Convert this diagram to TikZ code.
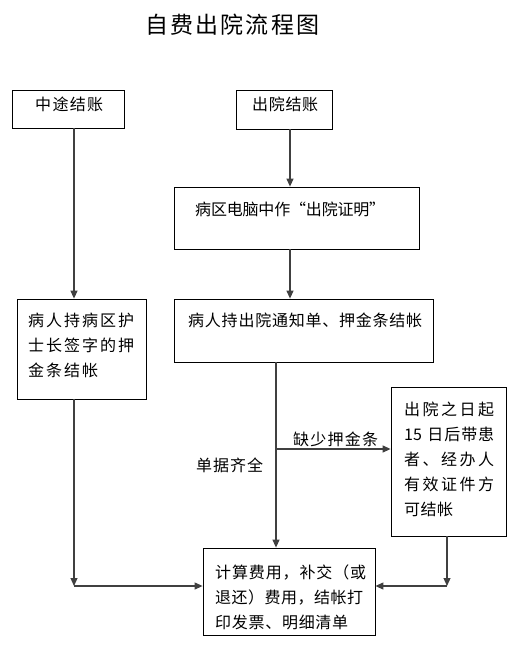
\documentclass[tikz,border=0pt]{standalone}
\usepackage{fontspec}
\newfontfamily\cjk{Noto Sans CJK SC}
\usetikzlibrary{arrows.meta,positioning}

% spread the characters of one line over a given width
\ExplSyntaxOn
\dim_new:N \l_spr_gap_dim
\box_new:N \l_spr_box
\NewDocumentCommand \spreadto { m m }
  {
    \hbox_set:Nn \l_spr_box {#2}
    \int_set:Nn \l_tmpa_int { \tl_count:n {#2} - 1 }
    \dim_set:Nn \l_spr_gap_dim { #1 - \box_wd:N \l_spr_box }
    \dim_set:Nn \l_spr_gap_dim { \l_spr_gap_dim / \l_tmpa_int }
    \bool_set_true:N \l_tmpa_bool
    \tl_map_inline:nn {#2}
      {
        \bool_if:NTF \l_tmpa_bool
          { \bool_set_false:N \l_tmpa_bool }
          { \hskip \l_spr_gap_dim \relax }
        ##1
      }
  }
\ExplSyntaxOff

\tikzset{
  box/.style={draw, line width=0.8pt, inner sep=0pt},
  txt/.style={font=\cjk\fontsize{16}{25}\selectfont,
    inner sep=0pt, anchor=north west, align=left},
  arr/.style={-{Triangle[length=8pt,width=7pt]}, line width=1.2pt, draw=black!75},
}

\begin{document}
\begin{tikzpicture}[x=1pt, y=-1pt]
  \useasboundingbox (0,0) rectangle (522,648);

  \node[anchor=north west, inner sep=0pt, font=\cjk\fontsize{23}{26}\selectfont]
    (title) at (145,14) {\spreadto{174pt}{自费出院流程图}};

  \node[box, minimum width=112, minimum height=38] (a) at (68,109) {};
  \node[box, minimum width=96, minimum height=39] (b) at (284,109.5) {};
  \node[box, minimum width=245, minimum height=62] (c) at (296.5,218) {};
  \node[box, minimum width=129, minimum height=100] (d) at (81.5,349) {};
  \node[box, minimum width=259, minimum height=63] (e) at (303.5,330.5) {};
  \node[box, minimum width=115, minimum height=149] (f) at (448.5,461.5) {};
  \node[box, minimum width=172, minimum height=87] (g) at (289,591.5) {};

  \node[txt] (ta) at (35,97) {\spreadto{68pt}{中途结账}};
  \node[txt] (tb) at (252,97) {\spreadto{66pt}{出院结账}};
  \node[txt] (tc) at (195,202) {\spreadto{190pt}{病区电脑中作“出院证明”}};
  \node[txt] (td) at (28,313) {\spreadto{106pt}{病人持病区护}\\
    \spreadto{106pt}{士长签字的押}\\\spreadto{70pt}{金条结帐}};
  \node[txt] (te) at (188,313) {\spreadto{234pt}{病人持出院通知单、押金条结帐}};
  \node[txt] (tf) at (404,402) {\spreadto{90pt}{出院之日起}\\
    \spreadto{90pt}{{15}~日后带患}\\\spreadto{90pt}{者、经办人}\\
    \spreadto{90pt}{有效证件方}\\\spreadto{49pt}{可结帐}};
  \node[txt] (tg) at (215,565) {\spreadto{151pt}{计算费用，补交（或}\\
    \spreadto{148pt}{退还）费用，结帐打}\\\spreadto{133pt}{印发票、明细清单}};

  \coordinate (xa) at (74,0);
  \coordinate (xc) at (290,0);
  \coordinate (xe) at (276,0);
  \coordinate (br) at (276,449);
  \coordinate (dl) at (74,586);
  \coordinate (fr) at (447,586);

  \draw[arr] (a.south -| xa) -- (d.north -| xa);
  \draw[arr] (b.south -| xc) -- (c.north -| xc);
  \draw[arr] (c.south -| xc) -- (e.north -| xc);
  \draw[arr] (e.south -| xe) -- (g.north -| xe);
  \draw[arr] (br) -- (br -| f.west);
  \draw[arr] (d.south -| xa) -- (dl);
  \draw[arr] (dl) -- (dl -| g.west);
  \draw[arr] (f.south -| fr) -- (fr);
  \draw[arr] (fr) -- (fr -| g.east);

  \node[txt] (lack) at (293,432) {\spreadto{85pt}{缺少押金条}};
  \node[txt] (full) at (196,458) {\spreadto{67pt}{单据齐全}};
\end{tikzpicture}
\end{document}
